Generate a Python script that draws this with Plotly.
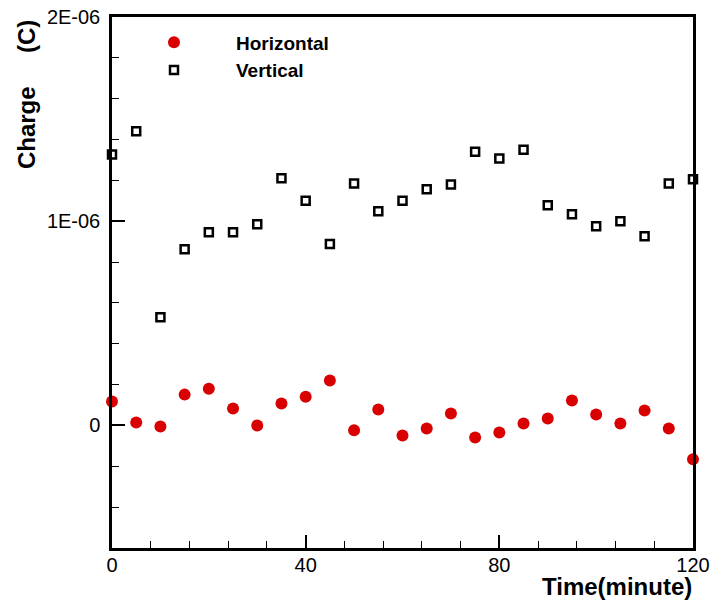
import plotly.graph_objects as go

time_min = [0, 5, 10, 15, 20, 25, 30, 35, 40, 45, 50, 55, 60, 65, 70, 75, 80, 85, 90, 95, 100, 105, 110, 115, 120]
horizontal = [0.117, 0.015, -0.005, 0.151, 0.18, 0.083, 0.0, 0.107, 0.141, 0.22, -0.024, 0.078, -0.049, -0.015,
              0.059, -0.059, -0.034, 0.01, 0.034, 0.122, 0.054, 0.01, 0.073, -0.015, -0.166]
vertical = [1.327, 1.44, 0.53, 0.863, 0.946, 0.946, 0.985, 1.21, 1.10, 0.888, 1.185, 1.049, 1.10, 1.156,
            1.18, 1.34, 1.307, 1.35, 1.078, 1.034, 0.976, 1.0, 0.927, 1.185, 1.205]
horizontal = [v * 1e-6 for v in horizontal]
vertical = [v * 1e-6 for v in vertical]

y_tick_vals = [0, 1e-6, 2e-6]
y_tick_text = ["0", "1E-06", "2E-06"]
x_tick_vals = [0, 40, 80, 120]

fig = go.Figure()
fig.add_trace(go.Scatter(x=time_min, y=horizontal, mode="markers", name="Horizontal",
                         marker=dict(symbol="circle", size=12, color="#d80000", line=dict(width=0)),
                         cliponaxis=False))
fig.add_trace(go.Scatter(x=time_min, y=vertical, mode="markers", name="Vertical",
                         marker=dict(symbol="square-open", size=8, color="black", line=dict(width=2.5, color="black")),
                         cliponaxis=False))

fig.update_layout(
    width=713, height=604,
    margin=dict(l=112, r=20, t=17, b=56),
    paper_bgcolor="white", plot_bgcolor="white",
    font=dict(family="Liberation Sans, Arial, sans-serif", color="black", size=20),
    showlegend=True,
    legend=dict(x=0.0, y=0.988, xanchor="left", yanchor="top", bgcolor="rgba(0,0,0,0)",
                font=dict(size=19, family="Liberation Sans, Arial, sans-serif", weight="bold"),
                itemwidth=114, tracegroupgap=0),
    xaxis=dict(range=[0, 120], tickmode="array", tickvals=x_tick_vals, ticks="inside", ticklen=13, tickwidth=2,
               tickcolor="black", showline=True, linecolor="black", linewidth=2.5, mirror=True, showgrid=False,
               zeroline=False, tickfont=dict(size=20), automargin=False, ticklabelstandoff=-3,
               minor=dict(dtick=8, tick0=0, ticks="inside", ticklen=7, tickwidth=1, tickcolor="black", showgrid=False)),
    yaxis=dict(range=[-0.6e-6, 2e-6], tickmode="array", tickvals=y_tick_vals, ticktext=y_tick_text,
               ticks="inside", ticklen=13, tickwidth=2, tickcolor="black", showline=True, linecolor="black",
               linewidth=2.5, mirror=True, showgrid=False, zeroline=False, tickfont=dict(size=20),
               ticklabelstandoff=5, automargin=False,
               minor=dict(dtick=0.2e-6, tick0=0, ticks="inside", ticklen=7, tickwidth=1, tickcolor="black",
                          showgrid=False)),
    annotations=[
        dict(text="<b>Charge     (C)</b>", xref="paper", yref="paper", x=-0.148, y=0.853, textangle=-90,
             showarrow=False, font=dict(size=24), xanchor="center", yanchor="middle"),
        dict(text="<b>Time(minute)</b>", xref="paper", yref="paper", x=0.869, y=-0.072,
             showarrow=False, font=dict(size=24), xanchor="center", yanchor="middle"),
    ],
)

fig.write_html("out.html")
